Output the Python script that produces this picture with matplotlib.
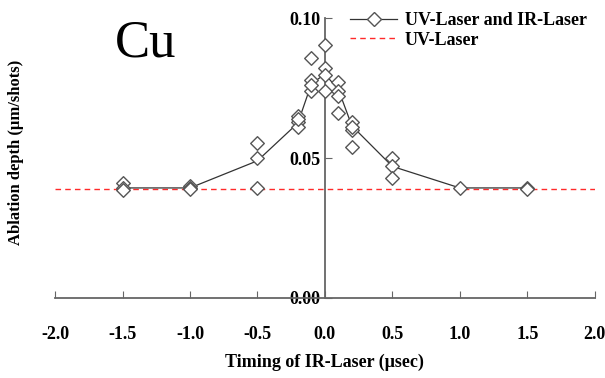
import matplotlib.pyplot as plt
from matplotlib.lines import Line2D

# individual measurements (timing in usec, ablation depth in um/shot)
meas_x = [-1.5, -1.5, -1.5,
          -1.0, -1.0, -1.0,
          -0.5, -0.5, -0.5,
          -0.2, -0.2, -0.2, -0.2,
          -0.1, -0.1, -0.1, -0.1,
          0.0, 0.0, 0.0, 0.0,
          0.1, 0.1, 0.1, 0.1,
          0.2, 0.2, 0.2, 0.2,
          0.5, 0.5, 0.5,
          1.0, 1.5, 1.5]
meas_y = [0.041, 0.0393, 0.0385,
          0.040, 0.0393, 0.0388,
          0.0554, 0.050, 0.0393,
          0.065, 0.063, 0.061, 0.064,
          0.0857, 0.078, 0.074, 0.076,
          0.0904, 0.082, 0.0796, 0.074,
          0.077, 0.074, 0.072, 0.066,
          0.063, 0.060, 0.054, 0.061,
          0.050, 0.047, 0.043,
          0.0393, 0.0393, 0.0390]

# averaged curve
mean_x = [-1.5, -1.0, -0.5, -0.2, -0.1, 0.0, 0.1, 0.2, 0.5, 1.0, 1.5]
mean_y = [0.0393, 0.0393, 0.049, 0.0625, 0.0765, 0.080, 0.0745, 0.0615, 0.047, 0.0393, 0.0393]

uv_only = 0.039

x_ticks = [-2.0, -1.5, -1.0, -0.5, 0.0, 0.5, 1.0, 1.5, 2.0]
y_ticks = [0.0, 0.05, 0.10]

plt.rcParams["font.family"] = "Liberation Serif"
plt.rcParams["font.weight"] = "bold"
plt.rcParams["axes.labelweight"] = "bold"

fig = plt.figure(figsize=(6.05, 3.78), dpi=100)
ax = fig.add_axes([0.091, 0.212, 0.892, 0.74])

# spine position first: moving it resets the ticks
ax.spines["left"].set_position(("data", 0))
ax.spines["top"].set_visible(False)
ax.spines["right"].set_visible(False)
for s in ("left", "bottom"):
    ax.spines[s].set_color("#666666")
    ax.spines[s].set_linewidth(1.3)

ax.axhline(uv_only, color="#ff2a2a", linestyle=(0, (4, 3)), linewidth=1.0, zorder=1)
ax.plot(mean_x, mean_y, color="#333333", linewidth=0.9, zorder=2)
ax.scatter(meas_x, meas_y, marker="D", s=48, facecolors="white",
           edgecolors="#555555", linewidths=1.0, zorder=3)

ax.set_xlim(-2.0, 2.0)
ax.set_ylim(0.0, 0.10)
ax.set_xticks(x_ticks)
ax.set_xticklabels([f"{v:.1f}" for v in x_ticks])
ax.set_yticks(y_ticks)
ax.set_yticklabels([f"{v:.2f}" for v in y_ticks])
ax.tick_params(axis="x", direction="in", length=5, pad=20, color="#666666", labelsize=13)
ax.tick_params(axis="y", direction="in", length=5, pad=3, color="#666666", labelsize=13)

ax.set_xlabel("Timing of IR-Laser (\u03bcsec)", fontsize=13, labelpad=8)
fig.text(0.027, 0.598, "Ablation depth (\u03bcm/shots)", rotation=90,
         fontsize=12, fontweight="bold", ha="center", va="center")

ax.text(-1.56, 0.091, "Cu", fontsize=38, fontweight="normal", va="center")

handles = [
    Line2D([], [], color="#333333", linewidth=0.9, marker="D", markersize=7,
           markerfacecolor="white", markeredgecolor="#555555"),
    Line2D([], [], color="#ff2a2a", linestyle=(0, (4, 3)), linewidth=1.0),
]
ax.legend(handles, ["UV-Laser and IR-Laser", "UV-Laser"], loc="upper right",
          bbox_to_anchor=(1.015, 1.08), frameon=False, fontsize=13,
          handlelength=2.6, handletextpad=0.4, labelspacing=0.15)

fig.savefig("out.png", dpi=100)
